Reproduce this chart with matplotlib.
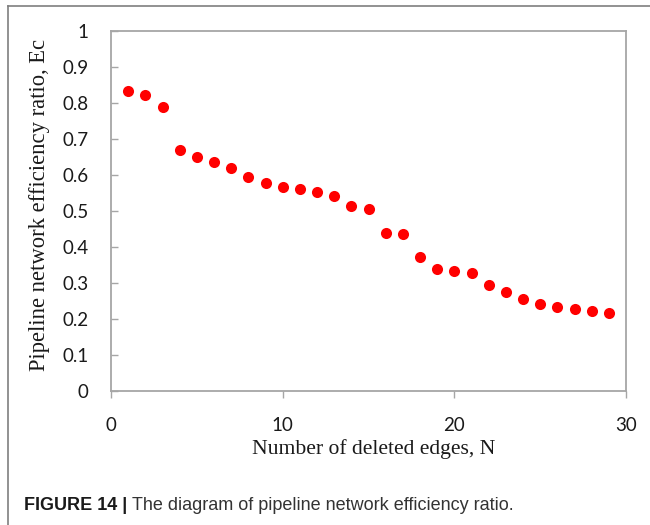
import numpy as np
import matplotlib
matplotlib.use("Agg")
import matplotlib.pyplot as plt
from matplotlib.lines import Line2D

# number of deleted edges and the efficiency ratio
n_deleted = list(range(1, 30))
ec = [0.834, 0.822, 0.790, 0.669, 0.651, 0.636, 0.620, 0.595, 0.577, 0.567,
      0.561, 0.553, 0.542, 0.514, 0.506, 0.438, 0.436, 0.372, 0.339, 0.333,
      0.329, 0.294, 0.274, 0.256, 0.241, 0.232, 0.228, 0.222, 0.216]
x_ticks = [0, 10, 20, 30]
y_ticks = [0, 0.1, 0.2, 0.3, 0.4, 0.5, 0.6, 0.7, 0.8, 0.9, 1]
y_tick_labels = ['0', '0.1', '0.2', '0.3', '0.4', '0.5', '0.6', '0.7', '0.8', '0.9', '1']

fig = plt.figure(figsize=(6.5, 5.25), dpi=100)
ax = fig.add_axes([111/650, 1 - 391/525, (626 - 111)/650, (391 - 31)/525])

ax.plot(n_deleted, ec, linestyle='none', marker='o', markersize=8,
        color='#ff0000', markeredgewidth=0)

ax.set_xlim(0, 30)
ax.set_ylim(0, 1)
ax.set_xticks(x_ticks)
ax.set_yticks(y_ticks)
ax.set_yticklabels(y_tick_labels)

for s in ax.spines.values():
    s.set_color('#a6a6a6')
    s.set_linewidth(1.3)

ax.tick_params(axis='y', direction='in', length=5, width=1, color='#a6a6a6', pad=16)
ax.tick_params(axis='x', direction='out', length=5, width=1, color='#a6a6a6', pad=14)
for lab in ax.get_xticklabels() + ax.get_yticklabels():
    lab.set_fontfamily('Lato')
    lab.set_fontsize(13.5)
    lab.set_color('#1a1a1a')

fig.text(374, 525 - 449, 'Number of deleted edges, N', transform=None,
         ha='center', va='center', family='Liberation Serif', fontsize=15.6, color='#1a1a1a')
fig.text(40, 525 - 205, 'Pipeline network efficiency ratio, Ec', transform=None,
         ha='center', va='center', rotation=90, family='Liberation Serif',
         fontsize=16.3, color='#1a1a1a')

# outer frame of the figure panel
fig.add_artist(Line2D([8/650, 1], [1 - 6/525, 1 - 6/525], transform=fig.transFigure,
                      color='#7f7f7f', linewidth=1.2))
fig.add_artist(Line2D([8/650, 8/650], [0, 1 - 6/525], transform=fig.transFigure,
                      color='#7f7f7f', linewidth=1.2))

t1 = fig.text(24/650, 1 - 510/525, 'FIGURE 14 |', family='Liberation Sans',
              fontweight='bold', fontsize=13, color='#1a1a1a', va='baseline')
fig.canvas.draw()
bb = t1.get_window_extent()
fig.text(bb.x1 + 5, 525 - 510, 'The diagram of pipeline network efficiency ratio.',
         transform=None, family='Liberation Sans', fontsize=13, color='#333333', va='baseline')

fig.savefig('out.png', dpi=100)
